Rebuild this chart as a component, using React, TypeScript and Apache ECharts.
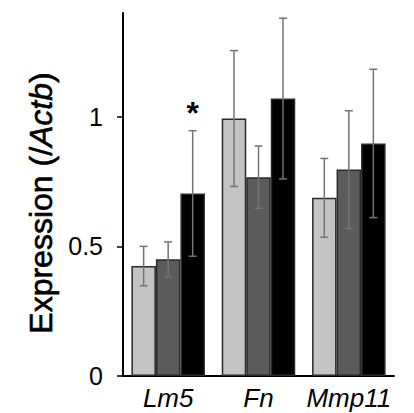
import React, { useEffect, useRef } from "react";
import * as echarts from "echarts";

const categories = ["Lm5", "Fn", "Mmp11"];
const seriesNames = ["Group A", "Group B", "Group C"];
const seriesColors = ["#c3c3c3", "#5b5b5b", "#000000"];
const meansA = [0.424, 0.993, 0.687];
const meansB = [0.45, 0.767, 0.796];
const meansC = [0.704, 1.07, 0.897];
const errA = [0.076, 0.262, 0.152];
const errB = [0.067, 0.12, 0.227];
const errC = [0.242, 0.31, 0.286];
const sigC = ["*", "", ""];
const yTicks = [0, 0.5, 1];
const yTitle = "{a|Expression (/}{b|Actb}{a|)}";

const CAT_GAP = 0.186;

export default function App() {
  const ref = useRef<HTMLDivElement>(null);
  useEffect(() => {
    document.body.style.margin = "0";
    const chart = echarts.init(ref.current!, null, { renderer: "svg" });
    const means = [meansA, meansB, meansC];
    const errs = [errA, errB, errC];
    const sigs = [["", "", ""], ["", "", ""], sigC];
    const font = "'Liberation Sans', Arial, sans-serif";

    const barSeries = means.map((m, i) => ({
      type: "bar",
      name: seriesNames[i],
      data: m,
      barGap: "0%",
      barCategoryGap: CAT_GAP * 100 + "%",
      itemStyle: { color: seriesColors[i], borderColor: "#2a2a2a", borderWidth: 1.5 },
      z: 2,
    }));

    const errSeries = means.map((m, i) => ({
      type: "custom",
      name: seriesNames[i] + " err",
      data: m.map((v, j) => [j, v, errs[i][j], j]),
      z: 5,
      renderItem: (params: any, api: any) => {
        const x = api.value(0);
        const mean = api.value(1);
        const e = api.value(2);
        const idx = api.value(3);
        const band = api.size([1, 0])[0];
        const bw = (band * (1 - CAT_GAP)) / 3;
        const c = api.coord([x, mean]);
        const cx = c[0] + (i - 1) * bw;
        const top = api.coord([x, mean + e])[1];
        const bot = api.coord([x, mean - e])[1];
        const cap = 4;
        const st = { stroke: "#747474", lineWidth: 1.5 };
        const children: any[] = [
          { type: "line", shape: { x1: cx, y1: top, x2: cx, y2: bot }, style: st },
          { type: "line", shape: { x1: cx - cap, y1: top, x2: cx + cap, y2: top }, style: st },
          { type: "line", shape: { x1: cx - cap, y1: bot, x2: cx + cap, y2: bot }, style: st },
        ];
        const s = sigs[i][idx];
        if (s) {
          children.push({
            type: "text",
            style: {
              text: s,
              x: cx,
              y: top - 2,
              align: "center",
              verticalAlign: "bottom",
              fontSize: 32,
              fontWeight: "bold",
              fontFamily: font,
              fill: "#000",
            },
          });
        }
        return { type: "group", children };
      },
    }));

    chart.setOption({
      animation: false,
      grid: { left: 123, right: 20, top: 13, bottom: 37, containLabel: false },
      graphic: [
        {
          type: "text",
          x: 41,
          y: 203,
          rotation: Math.PI / 2,
          style: {
            text: yTitle,
            align: "center",
            verticalAlign: "middle",
            rich: {
              a: { fontSize: 32, fontFamily: font, fill: "#000", stroke: "#000", lineWidth: 0.6 },
              b: { fontSize: 32, fontFamily: font, fontStyle: "italic", fill: "#000", stroke: "#000", lineWidth: 0.6 },
            },
          },
        },
      ],
      xAxis: {
        type: "category",
        data: categories,
        axisLine: { lineStyle: { color: "#000", width: 2 } },
        axisTick: { show: false },
        axisLabel: {
          interval: 0,
          fontSize: 26,
          fontStyle: "italic",
          fontFamily: font,
          color: "#000",
          margin: 9,
        },
      },
      yAxis: {
        type: "value",
        min: 0,
        max: 1.4,
        splitLine: { show: false },
        axisLine: { show: true, lineStyle: { color: "#000", width: 2 } },
        axisTick: { show: true, length: 6, lineStyle: { color: "#000", width: 1.5 }, customValues: yTicks },
        axisLabel: {
          fontSize: 25,
          fontFamily: font,
          color: "#000",
          margin: 20,
          customValues: yTicks,
          padding: [0, 0, 10, 0],
        },
      },
      series: [...barSeries, ...errSeries],
    });
    return () => chart.dispose();
  }, []);
  return <div ref={ref} style={{ width: 414, height: 413 }} />;
}
